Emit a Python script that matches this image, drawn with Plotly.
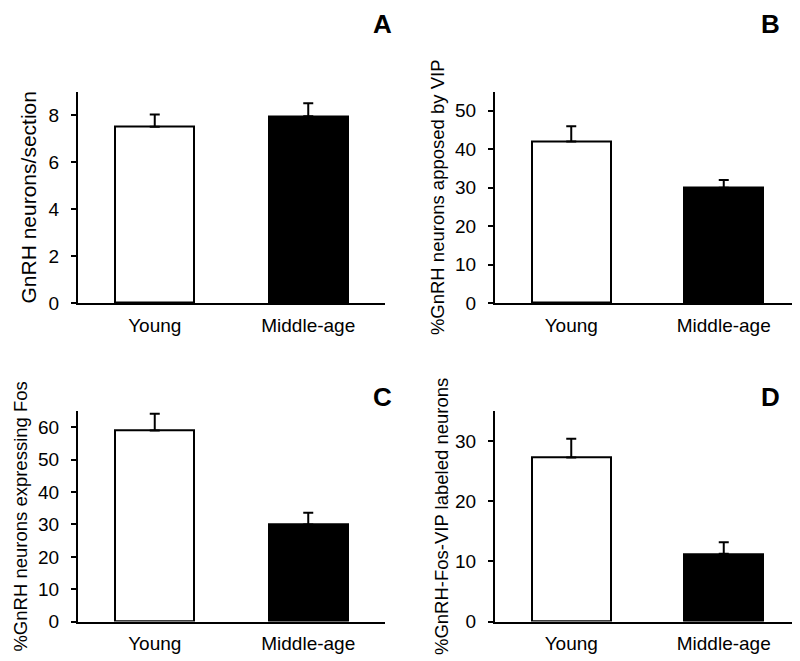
import plotly.graph_objects as go

categories = ["Young", "Middle-age"]
cat_pos = [0, 1]

# Panel A: GnRH neurons/section
a_vals = [7.5, 7.95]
a_err = [0.52, 0.55]
# Panel B: %GnRH neurons apposed by VIP
b_vals = [42.0, 30.0]
b_err = [4.0, 2.0]
# Panel C: %GnRH neurons expressing Fos
c_vals = [59.0, 30.0]
c_err = [5.2, 3.6]
# Panel D: %GnRH-Fos-VIP labeled neurons
d_vals = [27.3, 11.3]
d_err = [3.1, 1.9]

panels = [
    dict(vals=a_vals, err=a_err, title="GnRH neurons/section", rng=[0, 9], dtick=2, letter="A", tsize=21, st=6),
    dict(vals=b_vals, err=b_err, title="%GnRH neurons apposed by VIP", rng=[0, 55], dtick=10, letter="B", tsize=18.5, st=6),
    dict(vals=c_vals, err=c_err, title="%GnRH neurons expressing Fos", rng=[0, 65], dtick=10, letter="C", tsize=18.5, st=6),
    dict(vals=d_vals, err=d_err, title="%GnRH-Fos-VIP labeled neurons", rng=[0, 35], dtick=10, letter="D", tsize=18.5, st=2),
]

W, H = 800, 661
xdoms = [[70 / W, 377 / W], [487 / W, 792 / W], [70 / W, 377 / W], [487 / W, 792 / W]]
ydoms = [[1 - 300 / H, 1 - 85 / H], [1 - 300 / H, 1 - 85 / H], [1 - 624 / H, 1 - 410 / H], [1 - 624 / H, 1 - 410 / H]]
letter_pos = [(374, 16), (762, 16), (374, 396), (762, 396)]

font_family = "Liberation Sans, Arial, Helvetica, sans-serif"
fig = go.Figure()
layout = {}
annotations = []
for i, p in enumerate(panels):
    n = "" if i == 0 else str(i + 1)
    fig.add_trace(go.Bar(
        x=cat_pos, y=p["vals"], width=0.515,
        marker=dict(color=["white", "black"], line=dict(color="black", width=2)),
        error_y=dict(type="data", symmetric=False, array=p["err"], arrayminus=[0, 0],
                     color="black", thickness=2, width=5),
        xaxis="x" + n, yaxis="y" + n, showlegend=False,
    ))
    layout["xaxis" + n] = dict(
        domain=xdoms[i], range=[-0.5, 1.5], tickvals=cat_pos, ticktext=categories,
        showline=True, linecolor="black", linewidth=2, ticks="", showgrid=False,
        zeroline=False, anchor="y" + n, tickfont=dict(size=19, color="black"),
        ticklabelstandoff=4, fixedrange=True,
    )
    layout["yaxis" + n] = dict(
        domain=ydoms[i], range=p["rng"], dtick=p["dtick"], tick0=0,
        showline=True, linecolor="black", linewidth=2, ticks="outside", ticklen=5,
        tickwidth=2, tickcolor="black", showgrid=False, zeroline=False,
        anchor="x" + n, tickfont=dict(size=19, color="black"), ticklabelstandoff=8,
        title=dict(text=p["title"], font=dict(size=p["tsize"], color="black"), standoff=p["st"]),
        fixedrange=True,
    )
    lx, ly = letter_pos[i]
    annotations.append(dict(
        text="<b>" + p["letter"] + "</b>", x=lx / W, y=1 - ly / H, xref="paper", yref="paper",
        xanchor="center", yanchor="middle", showarrow=False, borderpad=0,
        font=dict(size=26, color="black", family=font_family),
    ))

fig.update_layout(
    width=W, height=H, margin=dict(l=0, r=0, t=0, b=0),
    paper_bgcolor="white", plot_bgcolor="white",
    font=dict(family=font_family, color="black"),
    annotations=annotations, bargap=0,
    **layout,
)
fig.write_html("out.html")
